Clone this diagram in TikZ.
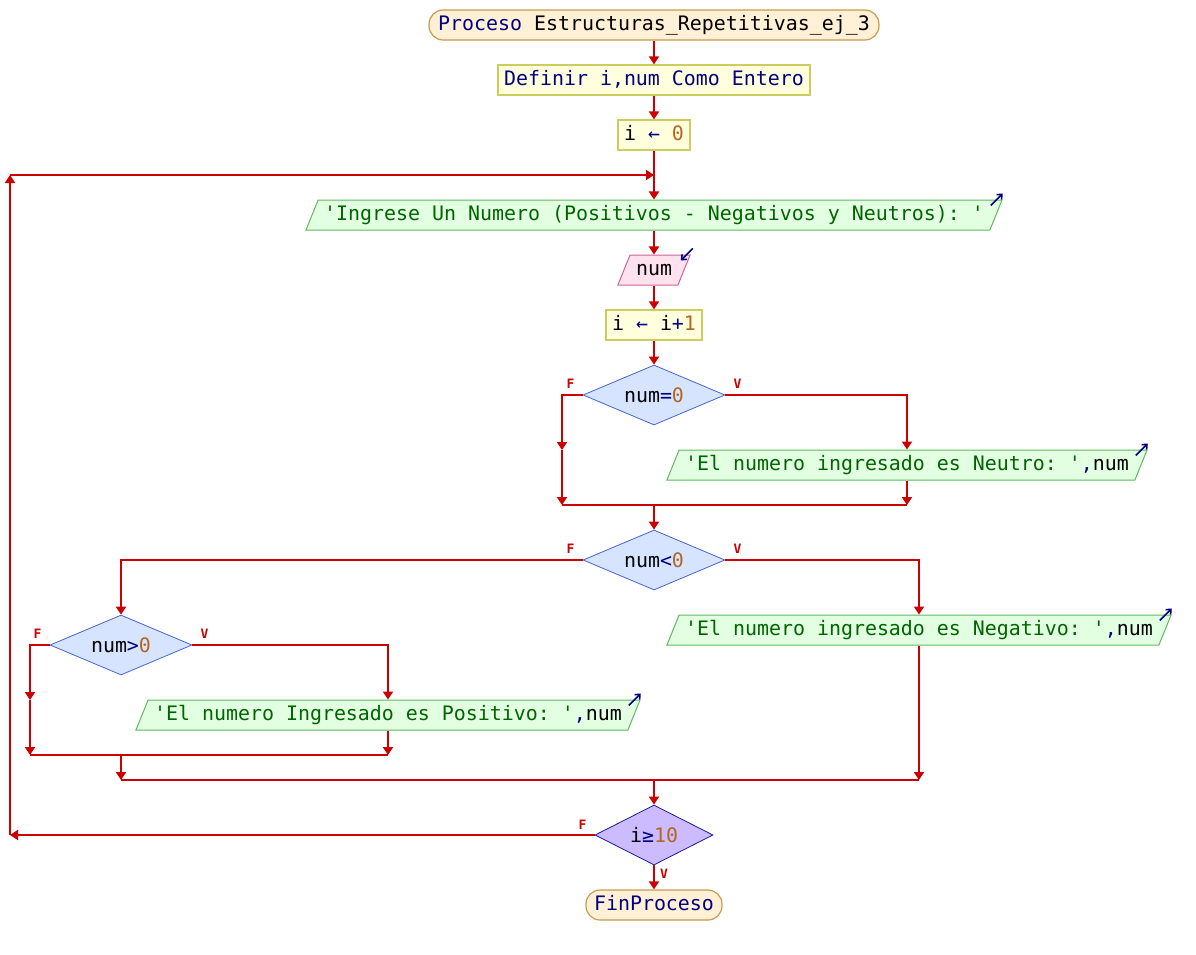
\documentclass[tikz,border=0pt]{standalone}
\usepackage{fontspec}
\setmonofont{DejaVu Sans Mono}
\usetikzlibrary{shapes.geometric,arrows.meta}
\definecolor{flujo}{HTML}{CC0000}
\definecolor{pskw}{HTML}{000080}
\definecolor{psstr}{HTML}{006400}
\definecolor{psnum}{HTML}{B5651D}
\newcommand\pkw[1]{\textcolor{pskw}{#1}}
\newcommand\pstr[1]{\textcolor{psstr}{#1}}
\newcommand\pnum[1]{\textcolor{psnum}{#1}}
% small navy marks on the in/out boxes
\newcommand\salida[1]{\draw[esmark,-{Straight Barb[length=4bp,width=7bp]}]
  ([shift={(-12,6)}]#1.top right corner) -- ++(12,-12);}
\newcommand\entrada[1]{\draw[esmark,-{Straight Barb[length=4bp,width=7bp]}]
  ([shift={(2,-6)}]#1.top right corner) -- ++(-12,12);}
\begin{document}
\begin{tikzpicture}[x=1bp,y=-1bp,
  every node/.style={font=\ttfamily\fontsize{20}{24}\selectfont},
  linea/.style={draw=flujo,line width=2bp,-{Triangle[length=8bp,width=10bp]}},
  tramo/.style={draw=flujo,line width=2bp},
  esmark/.style={draw=pskw,line width=1.6bp},
  txtbox/.style={text height=15bp,text depth=5bp,inner xsep=6bp,inner ysep=5bp},
  terminal/.style={txtbox,rectangle,rounded corners=14bp,draw={rgb,255:red,200;green,155;blue,80},fill={rgb,255:red,255;green,240;blue,214},line width=1.2bp,inner xsep=9bp},
  asigna/.style={txtbox,rectangle,draw={rgb,255:red,205;green,205;blue,95},fill={rgb,255:red,255;green,255;blue,222},line width=1.2bp},
  escribe/.style={txtbox,trapezium,trapezium left angle=68,trapezium right angle=112,draw={rgb,255:red,95;green,185;blue,95},fill={rgb,255:red,226;green,255;blue,226},line width=1bp},
  lee/.style={txtbox,trapezium,trapezium left angle=68,trapezium right angle=112,draw={rgb,255:red,205;green,100;blue,150},fill={rgb,255:red,255;green,226;blue,238},line width=1bp},
  decide/.style={diamond,aspect=2.4,inner sep=0pt,minimum width=142bp,minimum height=60bp,draw={rgb,255:red,70;green,100;blue,210},fill={rgb,255:red,214;green,228;blue,255},line width=0.8bp},
  flab/.style={font=\ttfamily\bfseries\fontsize{13}{13}\selectfont,text=flujo,inner sep=0pt}]
\useasboundingbox (0,0) rectangle (1196,955);
\node[terminal] (proc) at (654,25) {\pkw{Proceso} Estructuras\_Repetitivas\_ej\_3};
\node[asigna] (def) at (654,80) {\pkw{Definir i,num Como Entero}};
\node[asigna] (ini) at (654,135) {i \pkw{←} \pnum{0}};
\node[escribe] (ing) at (654,215) {\pstr{'Ingrese Un Numero (Positivos - Negativos y Neutros): '}};
\node[lee] (leer) at (654,270) {num};
\node[asigna] (inc) at (654,325) {i \pkw{←} i\pkw{+}\pnum{1}};
\node[decide] (d1) at (654,395) {num\pkw{=}\pnum{0}};
\node[escribe] (neu) at (907,465) {\pstr{'El numero ingresado es Neutro: '}\pkw{,}num};
\node[decide] (d2) at (654,560) {num\pkw{<}\pnum{0}};
\node[escribe] (neg) at (919,630) {\pstr{'El numero ingresado es Negativo: '}\pkw{,}num};
\node[decide] (d3) at (121,645) {num\pkw{>}\pnum{0}};
\node[escribe] (pos) at (388,715) {\pstr{'El numero Ingresado es Positivo: '}\pkw{,}num};
\node[decide,minimum width=118bp,draw={rgb,255:red,30;green,30;blue,150},fill={rgb,255:red,204;green,187;blue,255}] (d4) at (654,835) {i\pkw{≥}\pnum{10}};
\node[terminal,inner xsep=8bp] (fin) at (654,905) {\pkw{FinProceso}};
\salida{ing}
\entrada{leer}
\salida{neu}
\salida{neg}
\salida{pos}
\node[flab] (d1f) at ([shift={(-12,-11)}]d1.west) {F};
\node[flab] (d1v) at ([shift={(12,-11)}]d1.east) {V};
\node[flab] (d2f) at ([shift={(-12,-11)}]d2.west) {F};
\node[flab] (d2v) at ([shift={(12,-11)}]d2.east) {V};
\node[flab] (d3f) at ([shift={(-12,-11)}]d3.west) {F};
\node[flab] (d3v) at ([shift={(12,-11)}]d3.east) {V};
\node[flab] (d4f) at ([shift={(-12,-10)}]d4.west) {F};
\node[flab] (d4v) at ([shift={(10,8)}]d4.south) {V};
\coordinate (f1) at (562,450);
\coordinate (j1l) at (562,505);
\coordinate (j1r) at (907,505);
\coordinate (j1) at (654,505);
\coordinate (f3) at (30,700);
\coordinate (j3l) at (30,755);
\coordinate (j3r) at (388,755);
\coordinate (j3) at (121,755);
\coordinate (j2l) at (121,780);
\coordinate (j2r) at (919,780);
\coordinate (j2) at (654,780);
\coordinate (lb) at (10,835);
\coordinate (lt) at (10,175);
\coordinate (lr) at (654,175);
\draw[linea] (proc) -- (def);
\draw[linea] (def) -- (ini);
\draw[linea] (ini) -- (ing.center |- ing.north);
\draw[linea] (ing.center |- ing.south) -- (leer.center |- leer.north);
\draw[linea] (leer.center |- leer.south) -- (inc);
\draw[linea] (inc) -- (d1);
\draw[linea] (d1.east) -| (neu.center |- neu.north);
\draw[linea] (d1.west) -| (f1);
\draw[linea] (f1) -- (j1l);
\draw[linea] (neu.center |- neu.south) -- (j1r);
\draw[tramo] (j1l) -- (j1r);
\draw[linea] (j1) -- (d2);
\draw[linea] (d2.east) -| (neg.center |- neg.north);
\draw[linea] (d2.west) -| (d3.north);
\draw[linea] (d3.east) -| (pos.center |- pos.north);
\draw[linea] (d3.west) -| (f3);
\draw[linea] (f3) -- (j3l);
\draw[linea] (pos.center |- pos.south) -- (j3r);
\draw[tramo] (j3l) -- (j3r);
\draw[linea] (j3) -- (j2l);
\draw[linea] (neg.center |- neg.south) -- (j2r);
\draw[tramo] (j2l) -- (j2r);
\draw[linea] (j2) -- (d4);
\draw[linea] (d4.west) -- (lb);
\draw[linea] (lb) -- (lt);
\draw[linea] (lt) -- (lr);
\draw[linea] (d4) -- (fin);
\end{tikzpicture}
\end{document}
